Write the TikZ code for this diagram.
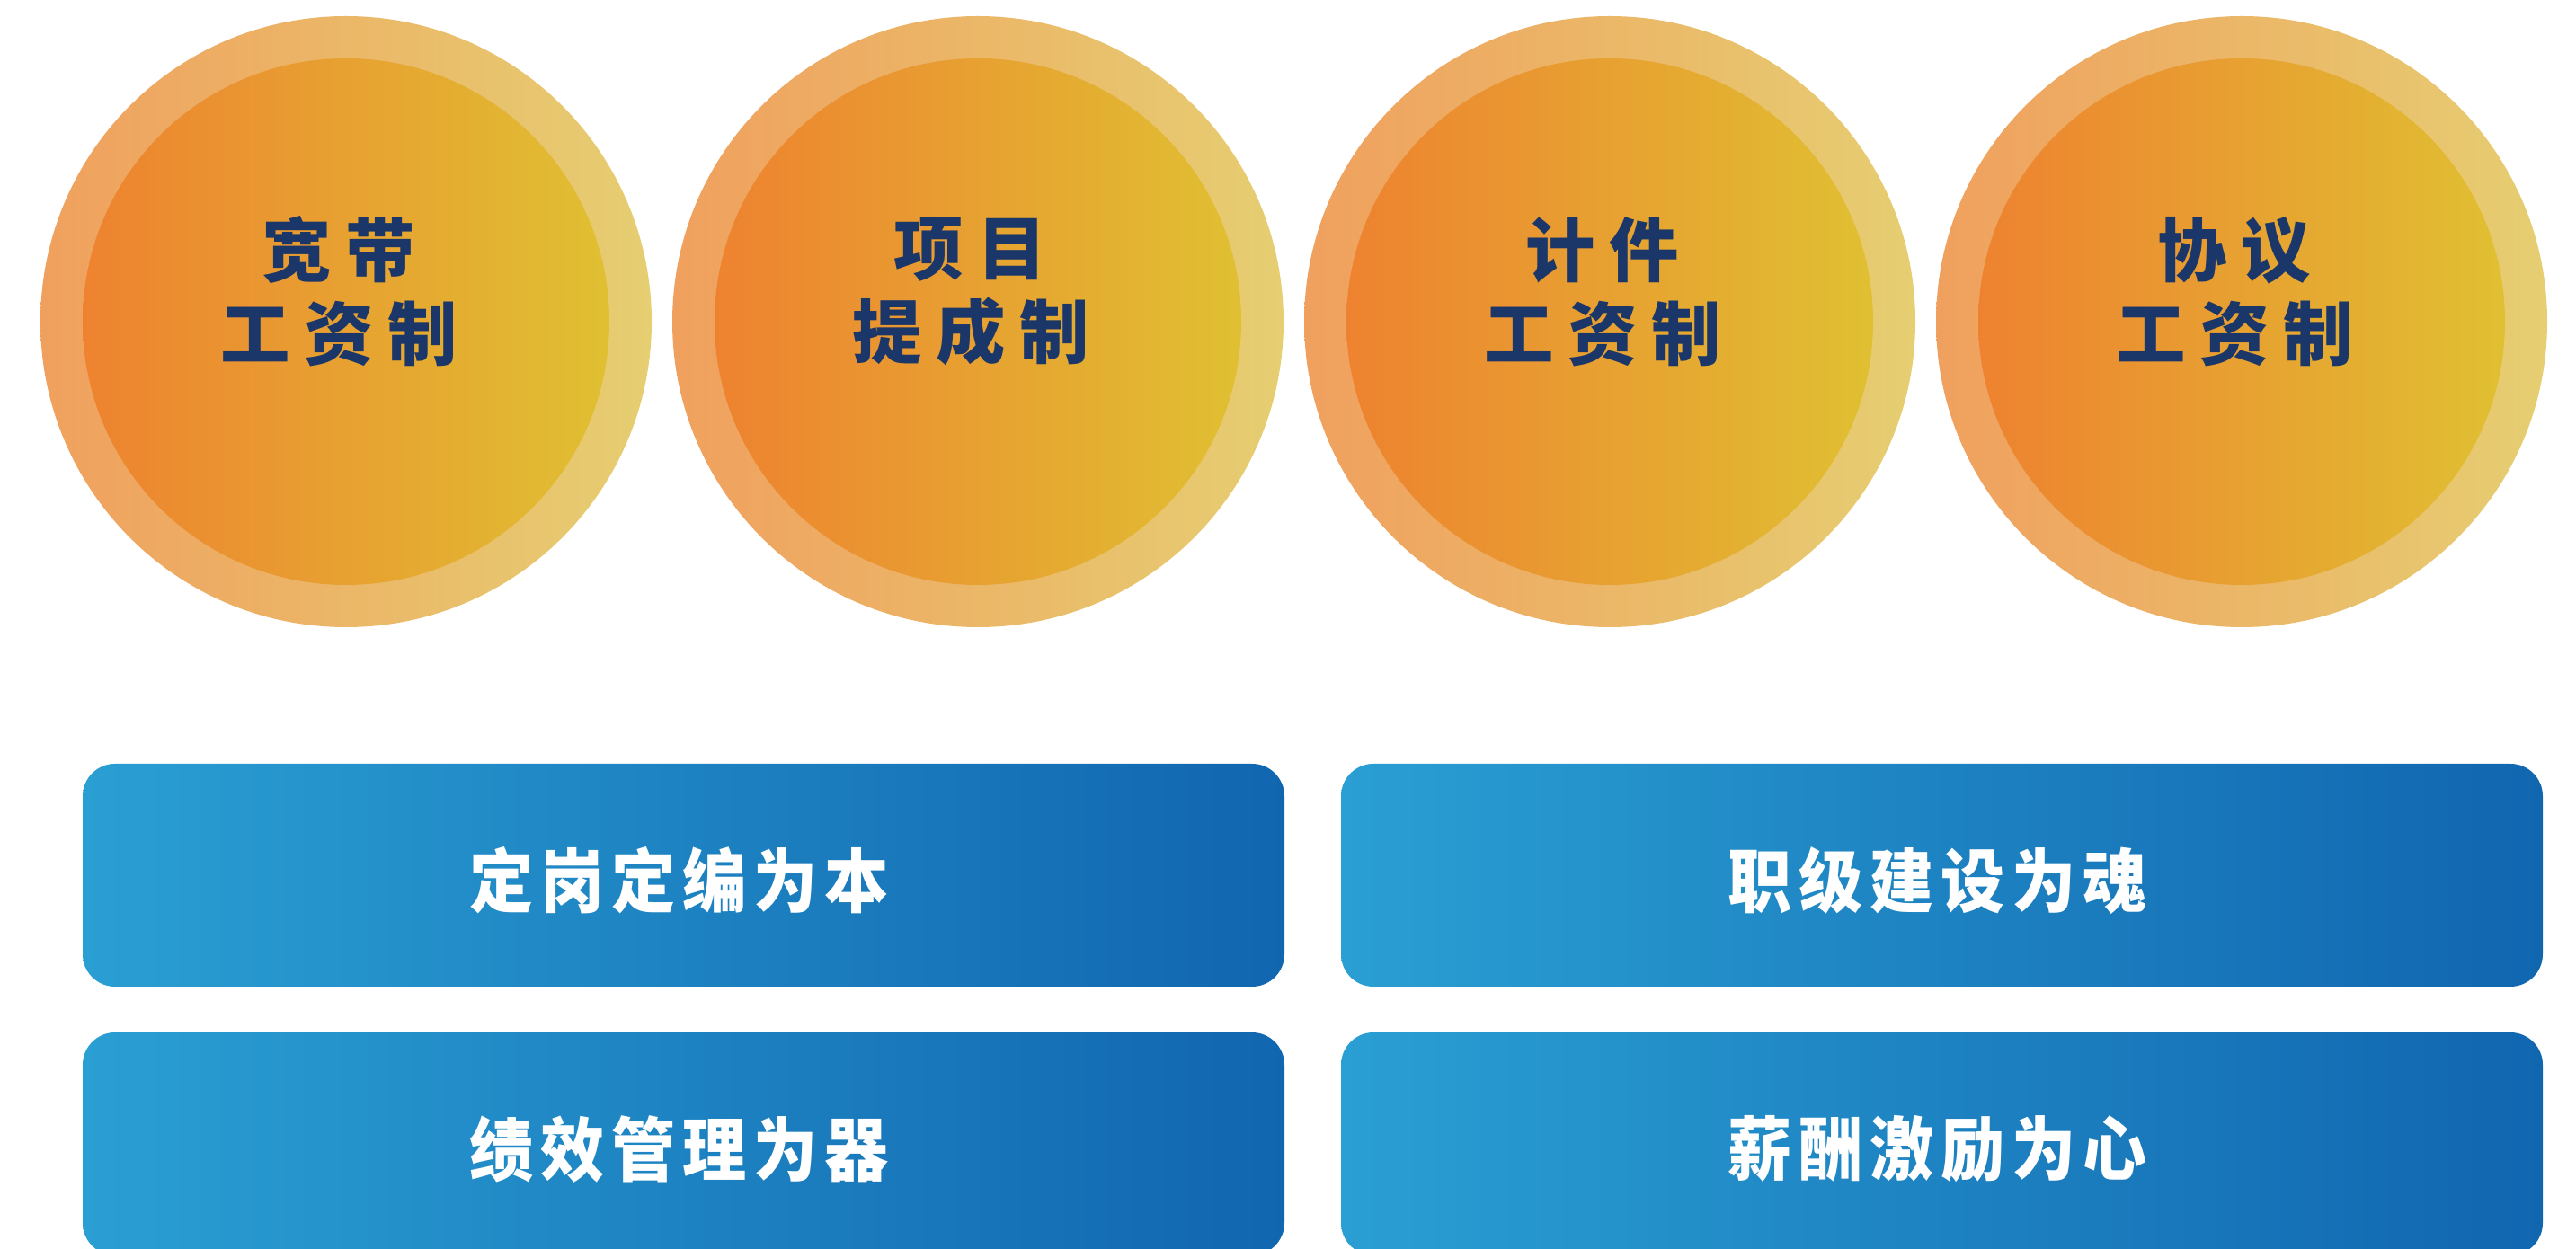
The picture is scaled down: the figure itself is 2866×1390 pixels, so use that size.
\documentclass[tikz,border=0pt]{standalone}
\usepackage{fontspec}
\newfontfamily\cjk{Noto Sans CJK SC}
\begin{document}
\begin{tikzpicture}[x=0.1mm,y=0.1mm]
\definecolor{color0}{HTML}{F0A05E}
\definecolor{color1}{HTML}{E6CE72}
\definecolor{color2}{HTML}{EE8230}
\definecolor{color3}{HTML}{E0C032}
\definecolor{color4}{HTML}{1B3668}
\definecolor{color5}{HTML}{2A9FD3}
\definecolor{color6}{HTML}{1166B0}
\tikzset{
  ring/.style={circle,minimum size=68mm,inner sep=0pt,left color=color0,right color=color1},
  disc/.style={circle,minimum size=58.6mm,inner sep=0pt,left color=color2,right color=color3},
  disclabel/.style={align=center,text=color4,inner sep=0pt,font=\cjk\bfseries\fontsize{22pt}{26.5pt}\selectfont\addfontfeature{LetterSpace=20}},
  bar/.style={rounded corners=3.6mm,minimum width=133.7mm,minimum height=24.8mm,inner sep=0pt,left color=color5,right color=color6},
  barlabel/.style={text=white,inner sep=0pt,font=\cjk\bfseries\fontsize{22pt}{26pt}\selectfont\addfontfeature{FakeStretch=0.92,LetterSpace=10}}
}
\useasboundingbox (0,0) rectangle (2866,1390);
\clip (0,0) rectangle (2866,1390);
\foreach \i/\linea/\lineb in {0/宽带/工资制,1/项目/提成制,2/计件/工资制,3/协议/工资制}{
  \node[ring] (ring\i) at (385+703*\i,1032) {};
  \node[disc] (disc\i) at (ring\i.center) {};
  \node[disclabel] (label\i) at ([xshift=-0.8mm,yshift=3.35mm]disc\i.center) {\linea\\\lineb};
}
\node[bar] (bar0) at (760.5,416) {};
\node[bar] (bar1) at (2160.5,416) {};
\node[bar] (bar2) at (760.5,117) {};
\node[bar] (bar3) at (2160.5,117) {};
\node[barlabel] (text0) at ([xshift=-0.5mm,yshift=-0.6mm]bar0.center) {定岗定编为本};
\node[barlabel] (text1) at ([xshift=-0.5mm,yshift=-0.6mm]bar1.center) {职级建设为魂};
\node[barlabel] (text2) at ([xshift=-0.5mm,yshift=-0.6mm]bar2.center) {绩效管理为器};
\node[barlabel] (text3) at ([xshift=-0.5mm,yshift=-0.6mm]bar3.center) {薪酬激励为心};
\end{tikzpicture}
\end{document}
